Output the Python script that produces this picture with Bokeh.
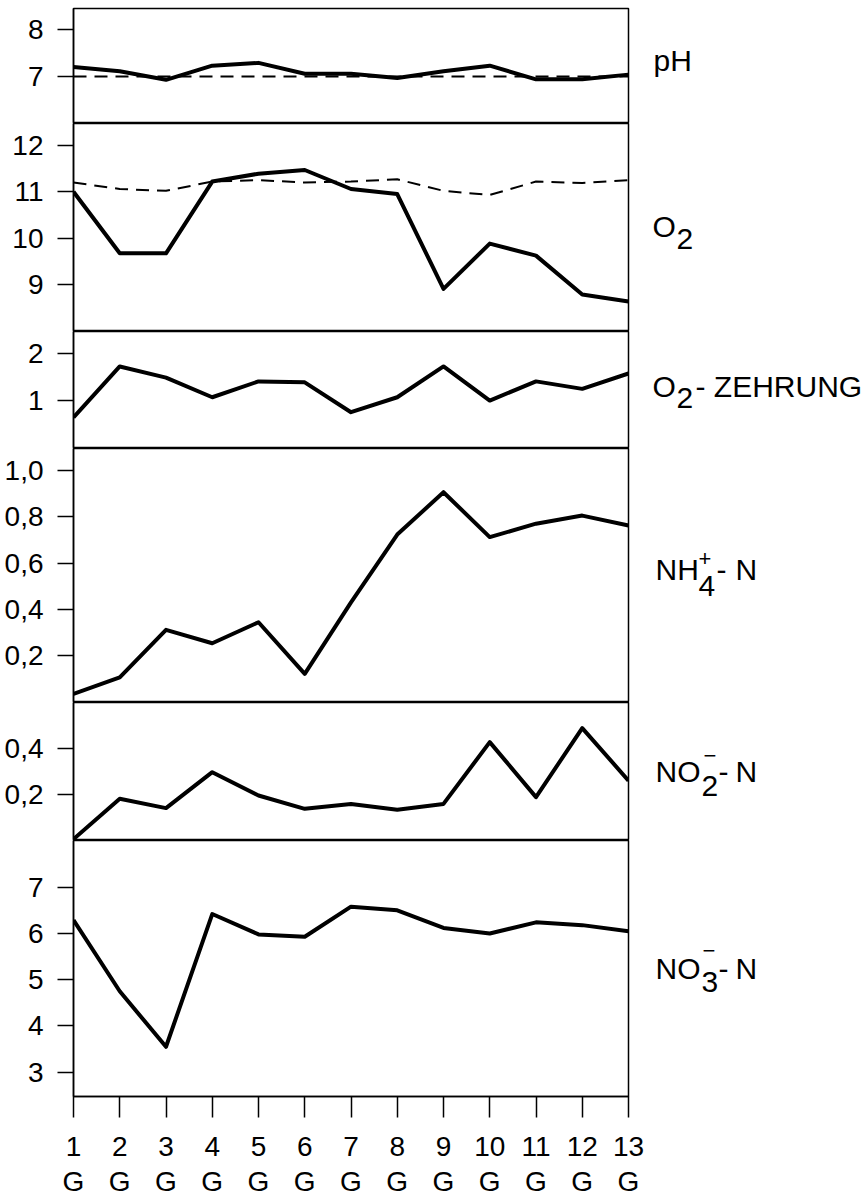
from bokeh.plotting import figure
from bokeh.layouts import column, row
from bokeh.models import Range1d, FixedTicker, LinearAxis, Label
from bokeh.embed import file_html
from bokeh.resources import INLINE

# ---------------- data ----------------
stations = [1, 2, 3, 4, 5, 6, 7, 8, 9, 10, 11, 12, 13]
station_labels = ["1", "2", "3", "4", "5", "6", "7", "8", "9", "10", "11", "12", "13"]
station_codes = ["G", "G", "G", "G", "G", "G", "G", "G", "G", "G", "G", "G", "G"]

ph = [7.20, 7.11, 6.93, 7.23, 7.29, 7.06, 7.06, 6.97, 7.11, 7.23, 6.94, 6.94, 7.04]
ph_ref = [7.0, 7.0, 7.0, 7.0, 7.0, 7.0, 7.0, 7.0, 7.0, 7.0, 7.0, 7.0, 7.0]

o2 = [11.00, 9.67, 9.67, 11.22, 11.39, 11.47, 11.06, 10.95, 8.90, 9.88, 9.62, 8.78, 8.63]
o2_ref = [11.20, 11.06, 11.02, 11.22, 11.25, 11.20, 11.22, 11.27, 11.02, 10.93, 11.22, 11.19, 11.25]

o2_zehrung = [0.64, 1.73, 1.49, 1.07, 1.41, 1.39, 0.75, 1.07, 1.73, 1.00, 1.41, 1.25, 1.58]

nh4_n = [0.034, 0.106, 0.311, 0.253, 0.344, 0.121, 0.43, 0.723, 0.906, 0.712, 0.77, 0.805, 0.762]

no2_n = [0.01, 0.183, 0.143, 0.297, 0.197, 0.14, 0.161, 0.136, 0.161, 0.426, 0.19, 0.486, 0.261]

no3_n = [6.29, 4.75, 3.55, 6.42, 5.98, 5.93, 6.58, 6.50, 6.12, 6.00, 6.24, 6.18, 6.05]

ph_ticks = [7, 8]
o2_ticks = [9, 10, 11, 12]
zehrung_ticks = [1, 2]
nh4_ticks = [0.2, 0.4, 0.6, 0.8, 1.0]
nh4_tick_labels = ["0,2", "0,4", "0,6", "0,8", "1,0"]
no2_ticks = [0.2, 0.4]
no2_tick_labels = ["0,2", "0,4"]
no3_ticks = [3, 4, 5, 6, 7]

# ---------------- style / layout ----------------
FONT = "Liberation Sans"
TICK_FS = "28px"
LAB_FS = 30
SUP_FS = 22
LEFT = 73
FRAME_W = 555
SIDE_W = 232
LW = 1.5

x_range = Range1d(1, 13)


def make_panel(y0, y1, frame_h, ticks, overrides=None, bottom=False, top=0, right=2):
    p = figure(frame_width=FRAME_W, frame_height=frame_h, x_range=x_range,
               y_range=Range1d(y0, y1), output_backend="svg", toolbar_location=None,
               min_border_left=LEFT, min_border_right=right, min_border_top=top,
               min_border_bottom=0, x_axis_location="below" if bottom else None)
    p.xgrid.visible = False
    p.ygrid.visible = False
    p.outline_line_color = "black"
    p.outline_line_width = LW
    p.background_fill_color = "white"
    p.border_fill_color = "white"
    ya = p.yaxis[0]
    ya.ticker = FixedTicker(ticks=ticks)
    if overrides:
        ya.major_label_overrides = overrides
    ya.axis_line_width = LW
    ya.major_tick_line_width = LW
    ya.major_tick_out = 16
    ya.major_tick_in = 0
    ya.minor_tick_out = 0
    ya.minor_tick_in = 0
    ya.major_label_standoff = 14
    ya.major_label_text_font = FONT
    ya.major_label_text_font_size = TICK_FS
    ya.major_label_text_color = "black"
    return p


def side(p, frame_h, pieces, base_dy=0, top=0, shift=0):
    w = SIDE_W - shift
    s = figure(frame_width=w, frame_height=frame_h, x_range=Range1d(0, w),
               y_range=p.y_range, output_backend="svg", toolbar_location=None,
               min_border_left=0, min_border_right=0, min_border_top=top,
               min_border_bottom=0, x_axis_location=None, y_axis_location=None)
    s.xgrid.visible = False
    s.ygrid.visible = False
    s.outline_line_color = None
    s.background_fill_color = "white"
    s.border_fill_color = "white"
    yc = (p.y_range.start + p.y_range.end) / 2
    for text, x, dy, fs in pieces:
        s.add_layout(Label(x=x - shift, y=yc, x_units="data", y_units="data", text=text,
                           y_offset=base_dy + dy, text_font=FONT,
                           text_font_size=f"{fs}px", text_color="black",
                           text_align="left", text_baseline="middle"))
    return s


def solid(p, ys):
    p.line(stations, ys, line_color="black", line_width=4, line_join="round")


def dashed(p, ys):
    p.line(stations, ys, line_color="black", line_width=2, line_dash="13 8")


# pH
p1 = make_panel(6.0, 8.447, 115, ph_ticks, top=8)
dashed(p1, ph_ref)
solid(p1, ph)
s1 = side(p1, 115, [("pH", 23, 0, LAB_FS)], base_dy=6, top=8)

# O2
p2 = make_panel(7.98, 12.475, 208, o2_ticks)
dashed(p2, o2_ref)
solid(p2, o2)
s2 = side(p2, 208, [("O", 22, 0, LAB_FS), ("2", 46, -12, LAB_FS)], base_dy=1)

# O2-Zehrung
p3 = make_panel(-0.027, 2.478, 117, zehrung_ticks)
solid(p3, o2_zehrung)
s3 = side(p3, 117, [("O", 22, 0, LAB_FS), ("2", 46, -12, LAB_FS),
                    ("- ZEHRUNG", 65, 0, LAB_FS)], base_dy=4)

# NH4
p4 = make_panel(-0.003, 1.095, 254, nh4_ticks, dict(zip(nh4_ticks, nh4_tick_labels)))
solid(p4, nh4_n)
s4 = side(p4, 254, [("NH", 25, 0, LAB_FS), ("4", 68, -16, LAB_FS), ("+", 68, 11, SUP_FS),
                    ("-", 86, 0, LAB_FS), ("N", 105, 0, LAB_FS)], base_dy=6)

# NO2
p5 = make_panel(0.004, 0.596, 138, no2_ticks, dict(zip(no2_ticks, no2_tick_labels)))
solid(p5, no2_n)
s5 = side(p5, 138, [("NO", 25, 0, LAB_FS), ("2", 71, -14, LAB_FS), ("\u2212", 73, 16, SUP_FS),
                    ("-", 88, 0, LAB_FS), ("N", 105, 0, LAB_FS)], base_dy=0)

# NO3
p6 = make_panel(2.475, 8.01, 256, no3_ticks, bottom=True, right=22)
solid(p6, no3_n)
s6 = side(p6, 256, [("NO", 25, 0, LAB_FS), ("3", 71, -13, LAB_FS), ("\u2212", 72, 18, SUP_FS),
                    ("-", 88, 0, LAB_FS), ("N", 105, 0, LAB_FS)], base_dy=0, shift=20)

xa = p6.xaxis[0]
xa.ticker = FixedTicker(ticks=stations)
xa.major_label_overrides = dict(zip(stations, station_labels))
xa.axis_line_width = LW
xa.major_tick_line_width = LW
xa.major_tick_out = 21
xa.major_tick_in = 0
xa.minor_tick_out = 0
xa.minor_tick_in = 0
xa.major_label_standoff = 19
xa.major_label_text_font = FONT
xa.major_label_text_font_size = TICK_FS
xa.major_label_text_color = "black"

ga = LinearAxis(ticker=FixedTicker(ticks=stations),
                major_label_overrides=dict(zip(stations, station_codes)),
                axis_line_color=None, major_tick_line_color=None,
                minor_tick_line_color=None, major_tick_out=0, major_tick_in=0,
                minor_tick_out=0, minor_tick_in=0, major_label_standoff=7,
                major_label_text_font=FONT, major_label_text_font_size=TICK_FS,
                major_label_text_color="black")
p6.add_layout(ga, "below")

layout = column(row(p1, s1, spacing=0), row(p2, s2, spacing=0), row(p3, s3, spacing=0),
                row(p4, s4, spacing=0), row(p5, s5, spacing=0), row(p6, s6, spacing=0),
                spacing=0)

open("out.html", "w").write(file_html(layout, INLINE))
